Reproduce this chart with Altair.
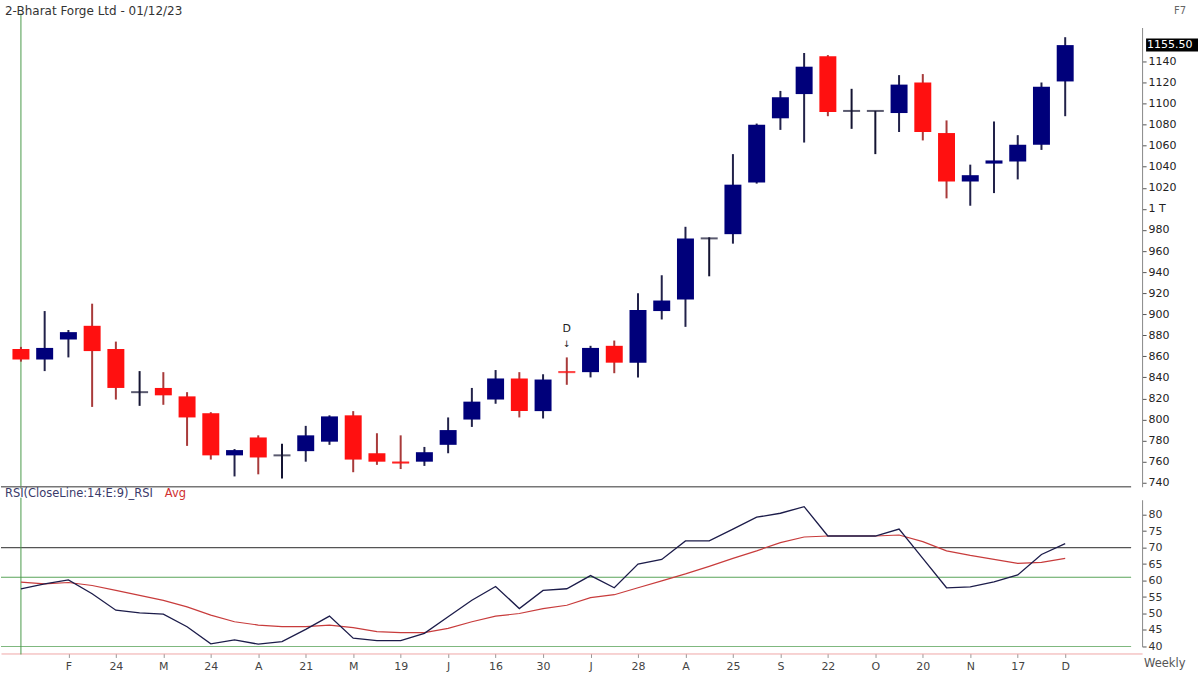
import altair as alt
import pandas as pd

# ---- data (weekly candles) ----
opens  = [867, 857, 876, 889, 867, 826, 830, 822, 806, 766, 783, 766, 770, 779, 804, 768,
          760, 760, 776, 800, 819, 839, 808, 845.5, 845, 870, 854, 903, 914, 972, 976, 1025,
          1086, 1109, 1145, 1093, 1093, 1091, 1120, 1072, 1026, 1043, 1045, 1061, 1121]
highs  = [869, 903, 885, 910, 874, 846, 845, 826, 807, 772, 785, 777, 794, 804, 808, 787,
          785, 774, 802, 830, 847, 845, 843, 859, 870, 875, 920, 937, 983, 973, 1052, 1081,
          1112, 1148, 1146, 1114, 1093, 1127, 1128, 1084, 1042, 1083, 1070, 1120, 1163]
lows   = [855, 846, 859, 812, 819, 813, 814, 775, 762, 746, 748, 744, 760, 776, 750, 757,
          753, 756, 768, 793, 815, 802, 801, 833, 840, 844, 840, 895, 888, 936, 967, 1024,
          1075, 1063, 1088, 1076, 1052, 1073, 1065, 1010, 1003, 1015, 1028, 1056, 1088]
closes = [857, 868, 883, 865, 830, 826, 823, 802, 766, 771, 764, 766, 785, 803, 762, 760,
          759, 769, 790, 817, 839, 808, 838, 845, 868, 854, 904, 913, 972, 972, 1023, 1080,
          1106, 1135, 1092, 1093, 1093, 1118, 1073, 1026, 1032, 1046, 1061, 1116, 1155.5]

rsi_vals = [57.5, 59, 60.2, 56, 51, 50.2, 49.8, 46, 40.8, 42, 40.7, 41.5, 45.2, 49.2, 42.5, 41.8,
            41.8, 44, 49, 54, 58.2, 51.5, 57, 57.5, 61.5, 57.8, 65, 66.4, 72, 72, 75.6, 79.2,
            80.4, 82.4, 73.5, 73.5, 73.5, 75.6, 66.7, 57.8, 58.1, 59.6, 61.7, 67.9, 71.2]
rsi_avg = [59.5, 59, 59.4, 58.5, 57, 55.5, 54, 52, 49.5, 47.5, 46.5, 46, 46, 46.5, 45.7, 44.5,
           44.2, 44.2, 45.5, 47.5, 49.2, 50, 51.5, 52.5, 54.8, 55.7, 57.8, 59.9, 62, 64.3, 66.7, 69,
           71.5, 73.2, 73.5, 73.5, 73.5, 73.8, 71.8, 69, 67.6, 66.4, 65.2, 65.5, 66.7]

tick_idx = list(range(2, 45, 2))
tick_labels = ["F", "24", "M", "24", "A", "21", "M", "19", "J", "16", "30", "J", "28", "A",
               "25", "S", "22", "O", "20", "N", "17", "D"]
price_ticks = list(range(740, 1141, 20))
rsi_ticks = list(range(40, 81, 5))
rsi_levels = [70, 61, 40]
rsi_level_colors = ["#555555", "#5aa55a", "#7fb87f"]
annot_idx = 23
annot_text = "D"

title_text = "2-Bharat Forge Ltd - 01/12/23"
FONT = "DejaVu Sans"

# ---- tables ----
df = pd.DataFrame({"i": list(range(len(opens))), "open": opens, "high": highs,
                   "low": lows, "close": closes, "rsi": rsi_vals, "avg": rsi_avg})
last_close = closes[-1]

W = 1143
H1 = 460
H2 = 147

xscale = alt.Scale(domain=[-0.84, 47.24], nice=False, zero=False, padding=0)
pscale = alt.Scale(domain=[736.2, 1172.2], nice=False, zero=False, padding=0)
rscale = alt.Scale(domain=[40, 84.5], nice=False, zero=False, padding=0)

p_axis = alt.Axis(orient="right", values=price_ticks, title=None, grid=False, format="d",
                  labelExpr="datum.value == 1000 ? '1 T' : datum.label",
                  domainColor="#888888", tickColor="#555555", tickSize=4,
                  labelFontSize=11, labelColor="#222222", labelPadding=2, labelFont=FONT)
r_axis = alt.Axis(orient="right", values=rsi_ticks, title=None, grid=False, format="d",
                  domainColor="#888888", tickColor="#555555", tickSize=4,
                  labelFontSize=11, labelColor="#333333", labelPadding=2, labelFont=FONT)
x_axis_none = alt.X("i:Q", scale=xscale, axis=None)

UP, DOWN, DOJI = "#00007a", "#ff1010", "#141432"
WUP, WDOWN = "#22224a", "#a83a3a"

base = alt.Chart(df).transform_calculate(
    bc=f"datum.close > datum.open ? '{UP}' : (datum.close < datum.open ? '{DOWN}' : '{DOJI}')",
    wc=f"datum.close > datum.open ? '{WUP}' : (datum.close < datum.open ? '{WDOWN}' : '{DOJI}')",
    small="abs(datum.close - datum.open) < 2",
)

wicks = base.mark_rule(strokeWidth=2).encode(
    x=x_axis_none,
    y=alt.Y("low:Q", scale=pscale, axis=p_axis),
    y2="high:Q",
    color=alt.Color("wc:N", scale=None, legend=None),
)
bodies = base.mark_bar(size=17).encode(
    x=x_axis_none,
    y=alt.Y("open:Q", scale=pscale, axis=p_axis),
    y2="close:Q",
    color=alt.Color("bc:N", scale=None, legend=None),
)
dojis = base.transform_filter("datum.small").mark_tick(orient="horizontal", size=17, thickness=2).encode(
    x=x_axis_none,
    y=alt.Y("close:Q", scale=pscale, axis=p_axis),
    color=alt.Color("bc:N", scale=None, legend=None),
)

annot_df = pd.DataFrame({"i": [annot_idx], "high": [highs[annot_idx]], "t": [annot_text]})
annot_d = alt.Chart(annot_df).transform_calculate(py="datum.high + 27").mark_text(
    fontSize=11, font=FONT, color="#222222").encode(
    x=x_axis_none, y=alt.Y("py:Q", scale=pscale, axis=p_axis), text="t:N")
annot_arrow = alt.Chart(annot_df).transform_calculate(py="datum.high + 13", a="'↓'").mark_text(
    fontSize=9, font=FONT, color="#222222").encode(
    x=x_axis_none, y=alt.Y("py:Q", scale=pscale, axis=p_axis), text="a:N")

last_df = pd.DataFrame({"v": [last_close], "t": [f"{last_close:.2f}"]})
last_box = alt.Chart(last_df).mark_rect(height=13, color="#000000").encode(
    x=alt.value(W + 4), x2=alt.value(W + 56),
    y=alt.Y("v:Q", scale=pscale, axis=p_axis))
last_txt = alt.Chart(last_df).mark_text(align="left", baseline="middle", fontSize=11,
                                         font=FONT, color="#ffffff").encode(
    x=alt.value(W + 5), y=alt.Y("v:Q", scale=pscale, axis=p_axis), text="t:N")

one = pd.DataFrame({"i": [0]})
vline1 = alt.Chart(one).mark_rule(color="#4a9a4a", strokeWidth=1).encode(
    x=x_axis_none, y=alt.value(-14), y2=alt.value(H1 + 2))
sep = alt.Chart(one).mark_rule(color="#777777", strokeWidth=1.5).encode(
    x=alt.value(0), x2=alt.value(1132), y=alt.value(H1))

title_df = pd.DataFrame({"t": [title_text]})
title = alt.Chart(title_df).mark_text(align="left", baseline="middle", fontSize=12,
                                       font=FONT, color="#333333").encode(
    x=alt.value(4), y=alt.value(-17), text="t:N")
f7 = alt.Chart(pd.DataFrame({"t": ["F7"]})).mark_text(align="left", baseline="middle", fontSize=10,
                                                       font=FONT, color="#666666").encode(
    x=alt.value(1175), y=alt.value(-17), text="t:N")

main = alt.layer(vline1, sep, wicks, bodies, dojis, annot_d, annot_arrow, last_box, last_txt,
                 title, f7).properties(width=W, height=H1)

# ---- RSI panel ----
x_axis_rsi = alt.X("i:Q", scale=xscale, axis=alt.Axis(
    values=tick_idx, title=None, grid=False, offset=7,
    labelExpr="[" + ",".join("'%s'" % s for s in tick_labels) + "][(datum.value - 2) / 2]",
    domainColor="#f0a8a8", tickColor="#999999", tickSize=4, labelPadding=3,
    labelFontSize=11, labelColor="#444444", labelFont=FONT))

lvl_df = pd.DataFrame({"lvl": rsi_levels, "c": rsi_level_colors})
levels = alt.Chart(lvl_df).mark_rule(strokeWidth=1.2).encode(
    x=alt.value(0), x2=alt.value(1132),
    y=alt.Y("lvl:Q", scale=rscale, axis=r_axis),
    color=alt.Color("c:N", scale=None, legend=None))
vline2 = alt.Chart(one).mark_rule(color="#4a9a4a", strokeWidth=1).encode(
    x=x_axis_rsi, y=alt.value(-2), y2=alt.value(H2 + 8))
rsi_line = alt.Chart(df).mark_line(color="#1c1c4a", strokeWidth=1.3).encode(
    x=x_axis_rsi, y=alt.Y("rsi:Q", scale=rscale, axis=r_axis))
avg_line = alt.Chart(df).mark_line(color="#c83c3c", strokeWidth=1.2).encode(
    x=x_axis_rsi, y=alt.Y("avg:Q", scale=rscale, axis=r_axis))

lab1 = alt.Chart(pd.DataFrame({"t": ["RSI(CloseLine:14:E:9)_RSI"]})).mark_text(
    align="left", baseline="middle", fontSize=11.5, font=FONT, color="#3a3a6a").encode(
    x=alt.value(4), y=alt.value(-6), text="t:N")
lab2 = alt.Chart(pd.DataFrame({"t": ["Avg"]})).mark_text(
    align="left", baseline="middle", fontSize=11.5, font=FONT, color="#d03030").encode(
    x=alt.value(164), y=alt.value(-6), text="t:N")
weekly = alt.Chart(pd.DataFrame({"t": ["Weekly"]})).mark_text(
    align="left", baseline="middle", fontSize=11.5, font=FONT, color="#555555").encode(
    x=alt.value(W + 2), y=alt.value(H2 + 18), text="t:N")

rsi_panel = alt.layer(levels, vline2, avg_line, rsi_line, lab1, lab2, weekly).properties(
    width=W, height=H2)

chart = alt.vconcat(main, rsi_panel, spacing=13, bounds="flush").properties(
    padding={"left": 0, "top": 4, "right": 0, "bottom": 0},
    background="#ffffff",
).configure_view(stroke=None)

chart.save("out.html", embed_options={"renderer": "svg", "actions": False})
